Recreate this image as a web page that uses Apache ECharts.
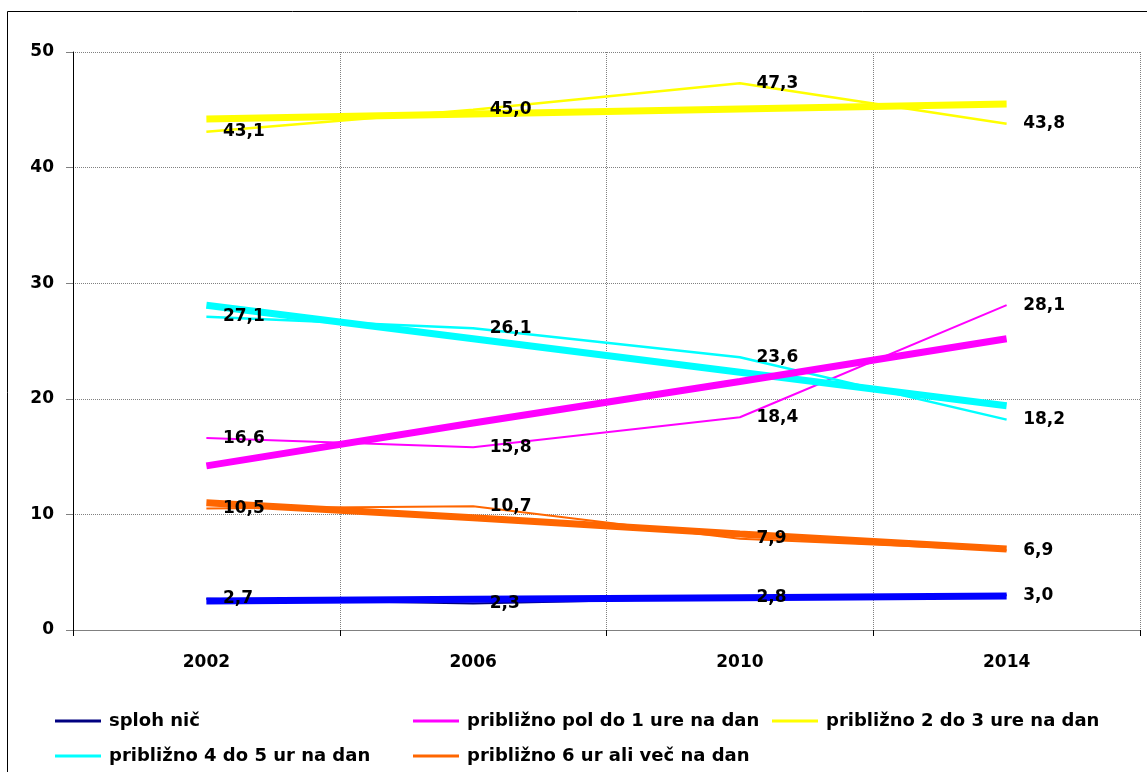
<!DOCTYPE html>
<html>
<head>
<meta charset="utf-8">
<title>Gledanje televizije</title>
<script src="https://cdn.jsdelivr.net/npm/echarts@6/dist/echarts.min.js"></script>
<style>
  html, body { margin: 0; padding: 0; background: #fff; }
  #main { width: 1147px; height: 772px; }
</style>
</head>
<body>
<div id="main"></div>
<script>
// leta (kategorije na osi x)
var years = ['2002', '2006', '2010', '2014'];

// izmerjeni deleži (%)
var splohNic = [2.7, 2.3, 2.8, 3.0];
var polDo1 = [16.6, 15.8, 18.4, 28.1];
var dvaDo3 = [43.1, 45.0, 47.3, 43.8];
var stiriDo5 = [27.1, 26.1, 23.6, 18.2];
var sestAliVec = [10.5, 10.7, 7.9, 6.9];

// debele trendne črte, odčitane s slike
var trendSplohNic = [2.5, 2.65, 2.8, 2.95];
var trendPolDo1 = [14.2, 17.9, 21.5, 25.2];
var trendDvaDo3 = [44.2, 44.63, 45.07, 45.5];
var trendStiriDo5 = [28.1, 25.2, 22.3, 19.4];
var trendSestAliVec = [11.0, 9.7, 8.3, 7.0];

var names = [
  'sploh nič',
  'približno pol do 1 ure na dan',
  'približno 2 do 3 ure na dan',
  'približno 4 do 5 ur na dan',
  'približno 6 ur ali več na dan'
];

var FONT = 'DejaVu Sans';

function fmt(v) {
  return v.toFixed(1).replace('.', ',');
}

// tanka črta s podatki
function dataLine(name, data, color, width) {
  return {
    name: name,
    type: 'line',
    data: data,
    symbol: 'none',
    z: 2,
    lineStyle: { color: color, width: width },
    itemStyle: { color: color }
  };
}

// debela trendna črta
function trendLine(data, color, z) {
  return {
    name: 'trend',
    type: 'line',
    data: data,
    symbol: 'none',
    z: z,
    silent: true,
    lineStyle: { color: color, width: 7 }
  };
}

// samo oznake podatkov (nad vsemi črtami)
function labels(data) {
  return {
    name: 'oznake',
    type: 'scatter',
    data: data,
    symbolSize: 1,
    z: 10,
    silent: true,
    itemStyle: { color: 'rgba(0,0,0,0)', opacity: 1 },
    label: {
      show: true,
      position: 'right',
      distance: 16,
      fontFamily: FONT,
      fontWeight: 'bold',
      fontSize: 17,
      color: '#000',
      opacity: 1,
      formatter: function (p) { return fmt(p.value); }
    }
  };
}

var legendText = { fontFamily: FONT, fontWeight: 'bold', fontSize: 18, color: '#000', lineHeight: 20, padding: [0, 0, 0, 3] };

function legendCol(left, data) {
  return {
    data: data,
    left: left,
    top: 711,
    orient: 'vertical',
    icon: 'rect',
    itemWidth: 46,
    itemHeight: 3,
    itemGap: 15,
    padding: 0,
    selectedMode: false,
    textStyle: legendText
  };
}

var myChart = echarts.init(document.getElementById('main'), null, { renderer: 'canvas' });

myChart.setOption({
  animation: false,
  backgroundColor: '#fff',
  grid: { left: 73, right: 7, top: 52, bottom: 142, containLabel: false },
  legend: [
    legendCol(55, [names[0], names[3]]),
    legendCol(413, [names[1], names[4]]),
    legendCol(772, [names[2]])
  ],
  graphic: [{
    type: 'rect',
    silent: true,
    shape: { x: 7.5, y: 11.5, width: 1200, height: 800 },
    style: { fill: 'none', stroke: '#000', lineWidth: 1 }
  }],
  xAxis: {
    type: 'category',
    data: years,
    boundaryGap: true,
    axisLine: { lineStyle: { color: '#808080', width: 1 } },
    axisTick: { show: true, length: 6, lineStyle: { color: '#000' } },
    axisLabel: { margin: 24, fontFamily: FONT, fontWeight: 'bold', fontSize: 17, color: '#000' },
    splitLine: { show: true, lineStyle: { color: '#808080', type: [1, 1], width: 1 } }
  },
  yAxis: {
    type: 'value',
    min: 0,
    max: 50,
    interval: 10,
    axisLine: { show: true, lineStyle: { color: '#000', width: 1 } },
    axisTick: { show: true, length: 7, lineStyle: { color: '#808080' } },
    axisLabel: { margin: 19, fontFamily: FONT, fontWeight: 'bold', fontSize: 17, color: '#000' },
    splitLine: { show: true, lineStyle: { color: '#808080', type: [1, 1], width: 1 } }
  },
  series: [
    dataLine(names[0], splohNic, '#000080', 2),
    dataLine(names[1], polDo1, '#FF00FF', 2),
    dataLine(names[2], dvaDo3, '#FFFF00', 2.5),
    dataLine(names[3], stiriDo5, '#00FFFF', 2.5),
    dataLine(names[4], sestAliVec, '#FF6600', 2),
    trendLine(trendSplohNic, '#0000FF', 3),
    trendLine(trendDvaDo3, '#FFFF00', 3),
    trendLine(trendStiriDo5, '#00FFFF', 3),
    trendLine(trendSestAliVec, '#FF6600', 3),
    trendLine(trendPolDo1, '#FF00FF', 4),
    labels(splohNic),
    labels(polDo1),
    labels(dvaDo3),
    labels(stiriDo5),
    labels(sestAliVec)
  ]
});
</script>
</body>
</html>
